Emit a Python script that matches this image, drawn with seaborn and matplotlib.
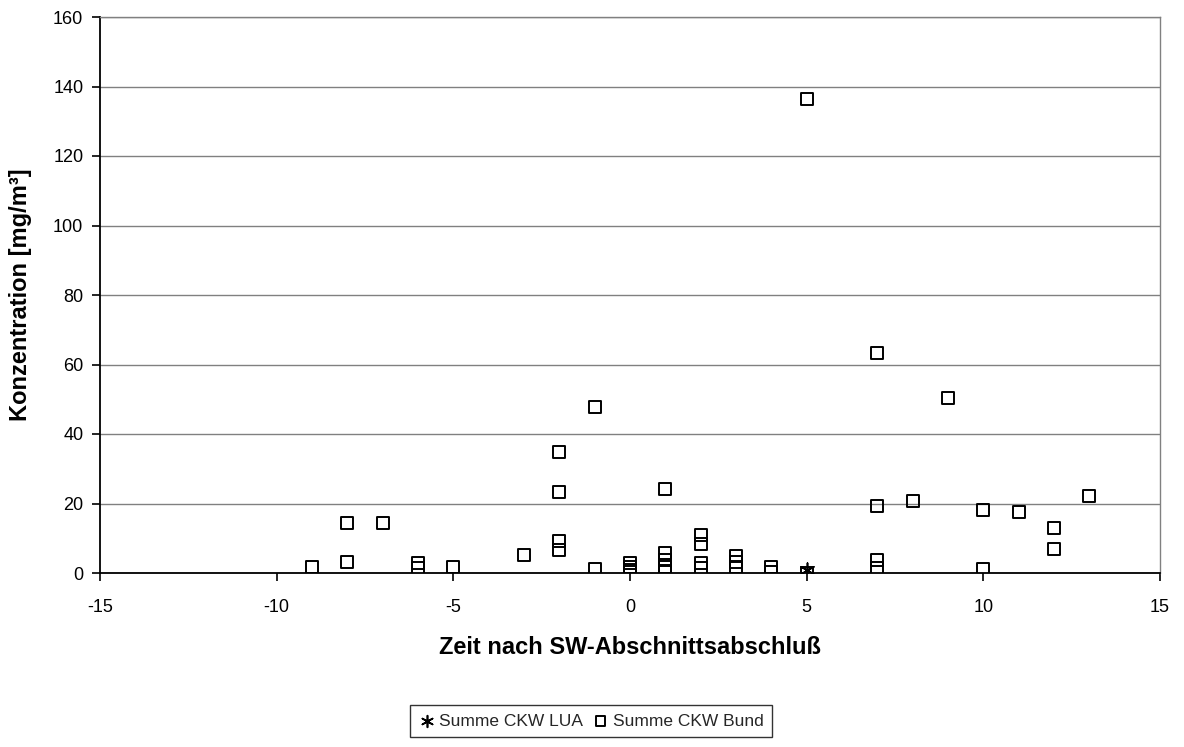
import matplotlib
matplotlib.use("Agg")
import matplotlib.pyplot as plt
import seaborn as sns
import pandas as pd

# Data: Summe CKW Bund
bund_x = [-9, -8, -8, -7, -6, -6, -5, -3,
          -2, -2, -2, -2, -1, -1,
          0, 0, 0, 0,
          1, 1, 1, 1, 1,
          2, 2, 2, 2,
          3, 3, 3, 4, 4,
          5, 5,
          7, 7, 7, 7, 8, 9,
          10, 10, 11, 12, 12, 13]
bund_y = [1.6, 14.3, 3.3, 14.3, 2.8, 1.4, 1.6, 5.2,
          34.9, 23.4, 9.2, 6.6, 47.7, 1.1,
          2.8, 1.8, 0.9, 0.3,
          24.1, 5.8, 3.8, 1.8, 0.6,
          10.9, 8.3, 2.8, 1.4,
          4.9, 3.3, 1.6, 1.6, 0.3,
          136.3, 0.0,
          63.2, 19.4, 3.7, 1.35, 20.6, 50.4,
          18.1, 1.1, 17.6, 13.0, 6.8, 22.2]

# Data: Summe CKW LUA
lua_x = [5]
lua_y = [1.0]

x_ticks = [-15, -10, -5, 0, 5, 10, 15]
y_ticks = [0, 20, 40, 60, 80, 100, 120, 140, 160]

sns.set_theme(style="white")
plt.rcParams['font.family'] = ['Liberation Sans', 'DejaVu Sans']

fig = plt.figure(figsize=(11.84, 7.47), dpi=100)
ax = fig.add_axes([100/1184, 1-573/747, (1160-100)/1184, (573-17)/747])

df_lua = pd.DataFrame({"x": lua_x, "y": lua_y})
df_bund = pd.DataFrame({"x": bund_x, "y": bund_y})

sns.scatterplot(data=df_lua, x="x", y="y", ax=ax, marker=(6, 2, 0), s=110,
                color="black", linewidth=1.2, label="Summe CKW LUA", zorder=4)
sns.scatterplot(data=df_bund, x="x", y="y", ax=ax, marker="s", s=75,
                facecolors="none", edgecolor="black", linewidth=1.4,
                label="Summe CKW Bund", zorder=3)

ax.set_xlim(-15, 15)
ax.set_ylim(0, 160)
ax.set_xticks(x_ticks)
ax.set_yticks(y_ticks)
ax.set_xticklabels([str(t) for t in x_ticks])
ax.set_yticklabels([str(t) for t in y_ticks])
ax.grid(axis="y", color="#808080", linewidth=1.0)
ax.set_axisbelow(True)
ax.tick_params(axis="both", which="both", direction="out", length=6, width=1.2,
               color="black", labelsize=13, labelcolor="black",
               bottom=True, left=True, top=False, right=False)
ax.tick_params(axis="x", pad=13)
ax.tick_params(axis="y", pad=6)
for side in ["left", "bottom"]:
    ax.spines[side].set_color("black")
    ax.spines[side].set_linewidth(1.3)
for side in ["top", "right"]:
    ax.spines[side].set_color("#808080")
    ax.spines[side].set_linewidth(1.0)

ax.set_xlabel("Zeit nach SW-Abschnittsabschluß", fontsize=17, fontweight="bold",
              color="black", labelpad=14)
ax.set_ylabel("Konzentration [mg/m³]", fontsize=17, fontweight="bold",
              color="black", labelpad=15)

leg = ax.legend(loc="center", bbox_to_anchor=(591/1184, 1-721/747),
                bbox_transform=fig.transFigure, ncol=2, frameon=True,
                fancybox=False, fontsize=12.5, handletextpad=0.2,
                columnspacing=0.5, handlelength=1.0, borderpad=0.5,
                markerscale=0.8)
leg.get_frame().set_edgecolor("black")
leg.get_frame().set_linewidth(1.0)

fig.savefig("out.png", dpi=100)
